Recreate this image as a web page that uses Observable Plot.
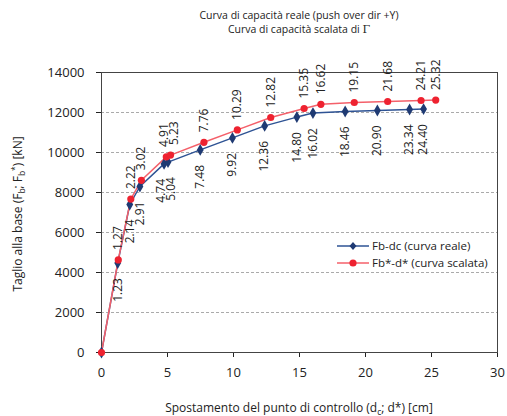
<!DOCTYPE html>
<html><head><meta charset="utf-8">
<script src="https://cdn.jsdelivr.net/npm/d3@7"></script>
<script src="https://cdn.jsdelivr.net/npm/@observablehq/plot@0.6"></script>
<style>
body{margin:0;background:#fff;font-family:"Open Sans",sans-serif;color:#222;}
#wrap{position:relative;width:507px;height:416px;overflow:hidden;}
#title{position:absolute;left:101px;width:396px;top:8px;text-align:center;font-size:10.5px;line-height:14px;color:#222;}
.gam{font-family:"DejaVu Serif","Liberation Serif",serif;font-size:11px;}
#ylab{position:absolute;left:17px;top:214px;transform:translate(-50%,-50%) rotate(-90deg);white-space:nowrap;font-size:12px;}
#xlab{position:absolute;left:299px;top:407px;transform:translate(-50%,-50%);white-space:nowrap;font-size:12px;}
sub{font-size:70%;vertical-align:-3px;line-height:0;}
sup{font-size:70%;vertical-align:4px;line-height:0;}
#legend{position:absolute;left:337px;top:237px;font-size:11.5px;line-height:17px;}
#legend div{display:flex;align-items:center;white-space:nowrap;}
#legend svg{margin-right:3px;}
</style></head><body>
<div id="wrap">
<div id="title">Curva di capacità reale (push over dir +Y)<br>Curva di capacità scalata di <span class="gam">Γ</span></div>
</div>
<script>
// Data
const dReal   = [0, 1.23, 2.14, 2.91, 4.74, 5.04, 7.48, 9.92, 12.36, 14.80, 16.02, 18.46, 20.90, 23.34, 24.40];
const fReal   = [0, 4470, 7400, 8300, 9430, 9520, 10130, 10730, 11330, 11770, 11970, 12050, 12100, 12150, 12170];
const dScaled = [0, 1.27, 2.22, 3.02, 4.91, 5.23, 7.76, 10.29, 12.82, 15.35, 16.62, 19.15, 21.68, 24.21, 25.32];
const fScaled = [0, 4630, 7670, 8610, 9780, 9870, 10510, 11130, 11750, 12200, 12410, 12500, 12550, 12600, 12620];
const xTicks = [0, 5, 10, 15, 20, 25, 30];
const yTicks = [0, 2000, 4000, 6000, 8000, 10000, 12000, 14000];
const gridLines = [2000, 4000, 6000, 8000, 10000, 12000];
const seriesNames = ["Fb-dc (curva reale)", "Fb*-d* (curva scalata)"];

const blue = "#1f3a73", blueLine = "#2e5394";
const red = "#ee2230", redLine = "#f4606a";

const real = dReal.map((d, i) => ({d, f: fReal[i]}));
const scaled = dScaled.map((d, i) => ({d, f: fScaled[i]}));

// split labels into groups so that crowded neighbours are nudged apart
function groups(pts) {
  const lab = pts.filter(p => p.d > 0);
  const left = [], right = [], mid = [];
  lab.forEach((p, i) => {
    const next = lab[i + 1], prev = lab[i - 1];
    if (next && next.d - p.d < 0.5) left.push(p);
    else if (prev && p.d - prev.d < 0.5) right.push(p);
    else mid.push(p);
  });
  return {left, right, mid};
}
const gR = groups(real), gS = groups(scaled);
const fmt = p => p.d.toFixed(2);
const realText = (data, dx) => Plot.text(data, {x: "d", y: "f", text: fmt, rotate: -90, textAnchor: "end", lineAnchor: "middle", dy: 15, dx, fontSize: 12, fill: "#222"});
const scaledText = (data, dx) => Plot.text(data, {x: "d", y: "f", text: fmt, rotate: -90, textAnchor: "start", lineAnchor: "middle", dy: -10, dx, fontSize: 12, fill: "#222"});

const chart = Plot.plot({
  width: 507, height: 416,
  marginTop: 72, marginBottom: 64, marginLeft: 101, marginRight: 10,
  style: {fontFamily: "'Open Sans', sans-serif", fontSize: "13px", color: "#222", background: "transparent"},
  x: {domain: [0, 30], ticks: xTicks, tickSize: 5, tickPadding: 10, label: null},
  y: {domain: [0, 14000], ticks: yTicks, tickSize: 5, tickPadding: 12, label: null, tickFormat: d => String(d)},
  marks: [
    Plot.ruleY(gridLines, {stroke: "#aaa", strokeDasharray: "3,2", strokeWidth: 1}),
    Plot.frame({stroke: "#444", strokeWidth: 1}),
    Plot.line(real, {x: "d", y: "f", stroke: blueLine, strokeWidth: 1.5}),
    Plot.line(scaled, {x: "d", y: "f", stroke: redLine, strokeWidth: 1.5}),
    Plot.dot(real, {x: "d", y: "f", symbol: "diamond", r: 3.6, fill: blue, stroke: "none"}),
    Plot.dot(scaled, {x: "d", y: "f", symbol: "circle", r: 3.6, fill: red, stroke: "none"}),
    realText(gR.mid, 0), realText(gR.left, -2.5), realText(gR.right, 3),
    scaledText(gS.mid, 0), scaledText(gS.left, -2.5), scaledText(gS.right, 4)
  ]
});
const wrap = document.getElementById("wrap");
chart.style.position = "absolute";
chart.style.left = "0";
chart.style.top = "0";
wrap.insertBefore(chart, wrap.firstChild);

const ylab = document.createElement("div");
ylab.id = "ylab";
ylab.innerHTML = "Taglio alla base (F<sub>b</sub>; F<sub>b</sub><sup>*</sup>) [kN]";
wrap.appendChild(ylab);
const xlab = document.createElement("div");
xlab.id = "xlab";
xlab.innerHTML = "Spostamento del punto di controllo (d<sub>c</sub>; d*) [cm]";
wrap.appendChild(xlab);

const legend = document.createElement("div");
legend.id = "legend";
legend.innerHTML =
  `<div><svg width="32" height="12"><line x1="0" y1="6" x2="32" y2="6" stroke="${blueLine}" stroke-width="1.5"/><path d="M16,2 L19.5,6 L16,10 L12.5,6 Z" fill="${blue}"/></svg>${seriesNames[0]}</div>` +
  `<div><svg width="32" height="12"><line x1="0" y1="6" x2="32" y2="6" stroke="${redLine}" stroke-width="1.5"/><circle cx="16" cy="6" r="3.6" fill="${red}"/></svg>${seriesNames[1]}</div>`;
wrap.appendChild(legend);
</script>
</body></html>
